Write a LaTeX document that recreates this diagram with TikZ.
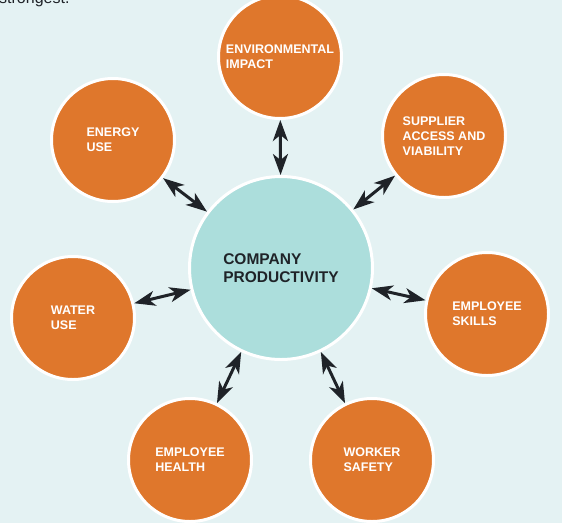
\documentclass[tikz,border=0pt]{standalone}
\usepackage{fontspec}
\setmainfont{Liberation Sans}
\usetikzlibrary{arrows.meta}
\definecolor{paleblue}{HTML}{E4F2F3}
\definecolor{burnt}{HTML}{DF772C}
\definecolor{aqua}{HTML}{ACDEDC}
\definecolor{ink}{HTML}{1F2328}
\begin{document}
\begin{tikzpicture}[x=1pt, y=-1pt,
  factor/.style={circle, fill=burnt, draw=white, line width=3pt, minimum size=123pt,
    inner sep=0pt, align=left, text=white, font=\fontsize{12.5}{15}\selectfont\bfseries},
  hub/.style={circle, fill=aqua, draw=white, line width=3pt, minimum size=183pt,
    inner sep=0pt, align=left, text=ink, font=\fontsize{15.5}{18}\selectfont\bfseries},
  twohead/.style={draw=ink, line width=3pt,
    arrows={Stealth[length=21pt, width=15pt, inset=6pt]-Stealth[length=21pt, width=15pt, inset=6pt]}}]
  \fill[paleblue] (0,0) rectangle (562,523);
  \useasboundingbox (0,0) rectangle (562,523);
  \node[anchor=base west, inner sep=0pt, font=\fontsize{16}{18}\selectfont, text=ink] (lead) at (-1,3) {strongest.};
  \node[hub] (prod) at (281,268) {COMPANY\\PRODUCTIVITY};
  \node[factor] (env) at (280,57) {ENVIRONMENTAL\\IMPACT};
  \node[factor] (energy) at (113,140) {ENERGY\\USE};
  \node[factor] (supplier) at (444,136) {SUPPLIER\\ACCESS AND\\VIABILITY};
  \node[factor] (water) at (73,318) {WATER\\USE};
  \node[factor] (skills) at (487,314) {EMPLOYEE\\SKILLS};
  \node[factor] (health) at (190,460) {EMPLOYEE\\HEALTH};
  \node[factor] (safety) at (372,460) {WORKER\\SAFETY};
  \draw[twohead] (prod) -- (env);
  \draw[twohead] (prod) -- (energy);
  \draw[twohead] (prod) -- (supplier);
  \draw[twohead] (prod) -- (water);
  \draw[twohead] (prod) -- (skills);
  \draw[twohead] (prod) -- (health);
  \draw[twohead] (prod) -- (safety);
\end{tikzpicture}
\end{document}
